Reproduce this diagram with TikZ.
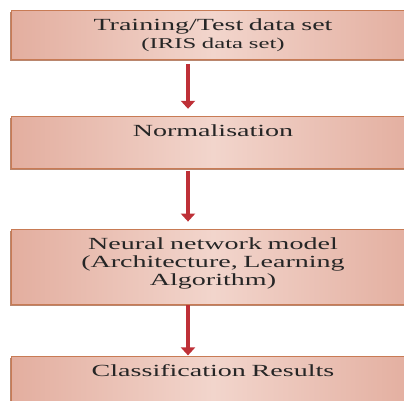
\documentclass[tikz,border=0pt]{standalone}
\usepackage{fontspec}
\setmainfont[FakeStretch=1.65]{Liberation Serif}
\usetikzlibrary{positioning, arrows.meta, shadows}

\definecolor{stageedge}{HTML}{E3AE9F}
\definecolor{stagemid}{HTML}{F2D5CC}
\definecolor{stageline}{HTML}{C87B55}
\definecolor{stageshadow}{HTML}{A8684A}
\definecolor{flowred}{HTML}{BE3037}

\tikzstyle{stage} = [rectangle, text width=404pt, inner xsep=0pt, inner ysep=0pt, text height=20pt, align=center, draw=stageline, line width=0.8pt, left color=stageedge, right color=stageedge, middle color=stagemid, text=black!85, font=\fontsize{17}{18}\selectfont, drop shadow={shadow xshift=-1pt, shadow yshift=-1.5pt, fill=stageshadow, opacity=0.8}]
\tikzstyle{arrow} = [line width=3.5pt, flowred, -{Triangle[width=14pt,length=8pt]}]

\begin{document}
\begin{tikzpicture}[x=1pt, y=1pt]
\useasboundingbox (0,0) rectangle (404,-400);

\node (train) [stage, text depth=29pt, anchor=north] at (213,-10) {Training/Test data set\\{\fontsize{15}{17}\selectfont (IRIS data set)}};
\node (norm) [stage, text depth=32pt, below=56pt of train] {Normalisation};
\node (model) [stage, text depth=55pt, below=60pt of norm] {Neural network model\\(Architecture, Learning\\Algorithm)};
\node (result) [stage, text depth=32pt, below=52pt of model] {Classification Results};

\draw [arrow] ([xshift=-25pt, yshift=-4pt]train.south) -- ([xshift=-25pt, yshift=7pt]norm.north);
\draw [arrow] ([xshift=-25pt, yshift=-2pt]norm.south) -- ([xshift=-25pt, yshift=7pt]model.north);
\draw [arrow] ([xshift=-25pt, yshift=-1pt]model.south) -- ([xshift=-25pt, yshift=1pt]result.north);

\end{tikzpicture}
\end{document}
